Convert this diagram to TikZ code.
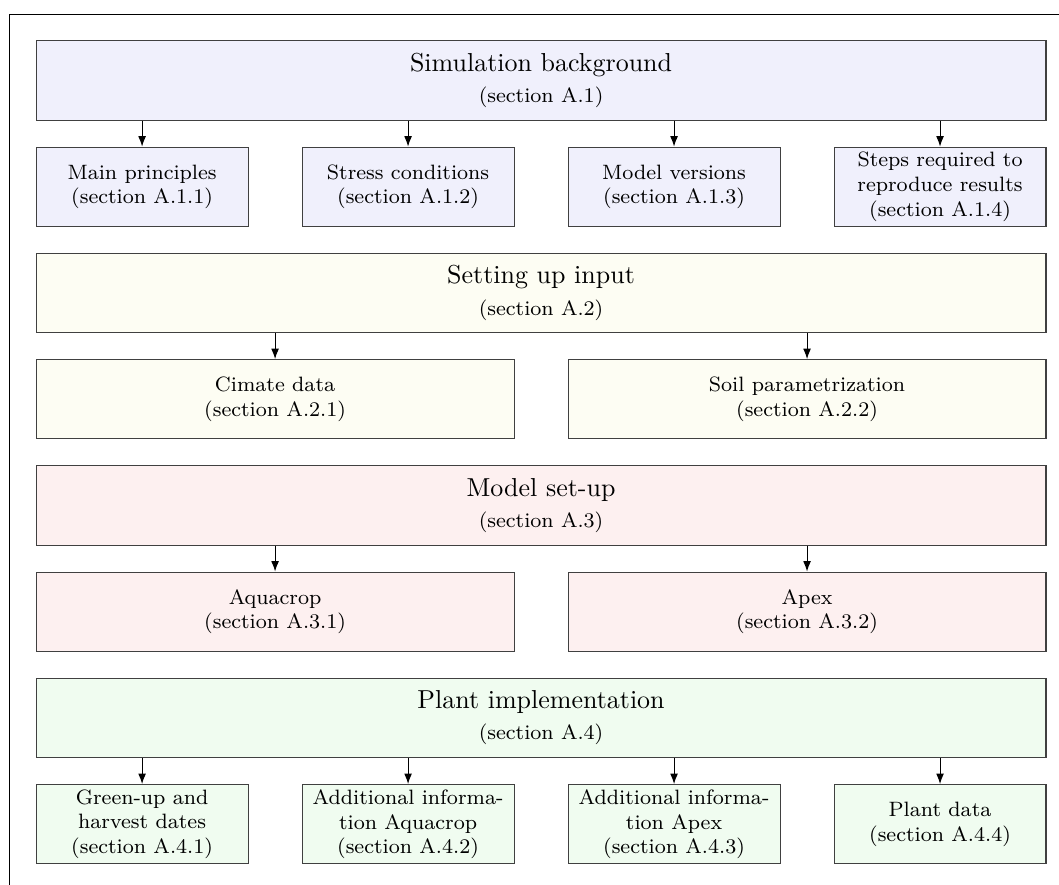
\documentclass[tikz,border=0pt]{standalone}
\usetikzlibrary{positioning,arrows.meta}
\definecolor{SimBlue}{RGB}{240,240,252}
\definecolor{InYellow}{RGB}{253,253,243}
\definecolor{ModRed}{RGB}{253,240,240}
\definecolor{PlantGreen}{RGB}{240,252,240}
\definecolor{BoxEdge}{RGB}{64,64,64}

\begin{document}
\begin{tikzpicture}[
node distance=10pt and 20.4pt,
head/.style={rectangle,draw=BoxEdge,minimum width=388.8pt,minimum height=30.5pt,inner sep=1pt,align=center,font=\footnotesize},
sub/.style={rectangle,draw=BoxEdge,minimum width=81.6pt,minimum height=30.5pt,inner sep=1pt,align=center,font=\footnotesize},
wide/.style={sub,minimum width=184pt},
arrow/.style={-{Latex[length=4pt,width=3pt]},draw=black}
]
\useasboundingbox (0,0) rectangle (407.7pt,-340.7pt);
\draw (3.5pt,-340.7pt) -- (3.5pt,-5.4pt) -- (407.7pt,-5.4pt);

% simulation background
\node[head,fill=SimBlue] (sim) at (208.3pt,-31pt) {{\normalsize Simulation background}\\[2.5pt](section A.1)};
\node[sub,fill=SimBlue,below=of sim.south west,anchor=north west] (sim1) {Main principles\\(section A.1.1)};
\node[sub,fill=SimBlue,right=of sim1] (sim2) {Stress conditions\\(section A.1.2)};
\node[sub,fill=SimBlue,right=of sim2] (sim3) {Model versions\\(section A.1.3)};
\node[sub,fill=SimBlue,right=of sim3] (sim4) {Steps required to\\reproduce results\\(section A.1.4)};
\draw[arrow] (sim1 |- sim.south)--(sim1); \draw[arrow] (sim2 |- sim.south)--(sim2);
\draw[arrow] (sim3 |- sim.south)--(sim3); \draw[arrow] (sim4 |- sim.south)--(sim4);

% input
\node[head,fill=InYellow,below=of sim1.south west,anchor=north west] (inp) {{\normalsize Setting up input}\\[2.5pt](section A.2)};
\node[wide,fill=InYellow,below=of inp.south west,anchor=north west] (inp1) {Cimate data\\(section A.2.1)};
\node[wide,fill=InYellow,right=of inp1] (inp2) {Soil parametrization\\(section A.2.2)};
\draw[arrow] (inp1 |- inp.south)--(inp1); \draw[arrow] (inp2 |- inp.south)--(inp2);

% model set-up
\node[head,fill=ModRed,below=of inp1.south west,anchor=north west] (mod) {{\normalsize Model set-up}\\[2.5pt](section A.3)};
\node[wide,fill=ModRed,below=of mod.south west,anchor=north west] (mod1) {Aquacrop\\(section A.3.1)};
\node[wide,fill=ModRed,right=of mod1] (mod2) {Apex\\(section A.3.2)};
\draw[arrow] (mod1 |- mod.south)--(mod1); \draw[arrow] (mod2 |- mod.south)--(mod2);

% plants
\node[head,fill=PlantGreen,below=of mod1.south west,anchor=north west] (pl) {{\normalsize Plant implementation}\\[2.5pt](section A.4)};
\node[sub,fill=PlantGreen,below=of pl.south west,anchor=north west] (pl1) {Green-up and\\harvest dates\\(section A.4.1)};
\node[sub,fill=PlantGreen,right=of pl1] (pl2) {Additional informa-\\tion Aquacrop\\(section A.4.2)};
\node[sub,fill=PlantGreen,right=of pl2] (pl3) {Additional informa-\\tion Apex\\(section A.4.3)};
\node[sub,fill=PlantGreen,right=of pl3] (pl4) {Plant data\\(section A.4.4)};
\draw[arrow] (pl1 |- pl.south)--(pl1); \draw[arrow] (pl2 |- pl.south)--(pl2);
\draw[arrow] (pl3 |- pl.south)--(pl3); \draw[arrow] (pl4 |- pl.south)--(pl4);
\end{tikzpicture}
\end{document}
